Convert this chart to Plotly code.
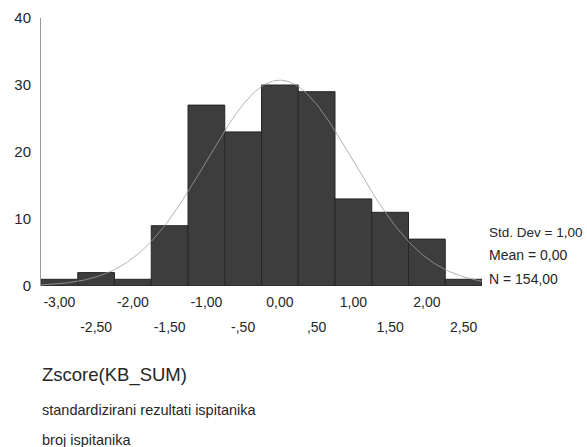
import math
import plotly.graph_objects as go

# ---- data ----
bin_centers = [-3.0, -2.5, -2.0, -1.5, -1.0, -0.5, 0.0, 0.5, 1.0, 1.5, 2.0, 2.5]
counts = [1, 2, 1, 9, 27, 23, 30, 29, 13, 11, 7, 1]
row1_vals = [-3.0, -2.0, -1.0, 0.0, 1.0, 2.0]
row1_text = ["-3,00", "-2,00", "-1,00", "0,00", "1,00", "2,00"]
row2_vals = [-2.5, -1.5, -0.5, 0.5, 1.5, 2.5]
row2_text = ["-2,50", "-1,50", "-,50", ",50", "1,50", "2,50"]
y_ticks = [0, 10, 20, 30, 40]
std_dev = 1.0
mean = 0.0
n_total = 154
bin_width = 0.5
stats_text = ["Std. Dev = 1,00", "Mean = 0,00", "N = 154,00"]
stats_y = [8.0, 4.6, 1.0]
stats_size = [13.5, 14, 14]
title_text = "Zscore(KB_SUM)"
sub1_text = "standardizirani rezultati ispitanika"
sub2_text = "broj ispitanika"

# fitted normal curve from the stated statistics
x_lo = bin_centers[0] - bin_width / 2
x_hi = bin_centers[-1] + bin_width / 2
steps = 240
curve_x = [x_lo + (x_hi - x_lo) * i / steps for i in range(steps + 1)]
curve_y = [n_total * bin_width / (std_dev * math.sqrt(2 * math.pi))
           * math.exp(-0.5 * ((x - mean) / std_dev) ** 2) for x in curve_x]

FONT = "Arial, Liberation Sans, sans-serif"
TXT = "#262626"

fig = go.Figure()
fig.add_trace(go.Bar(
    x=bin_centers, y=counts, width=bin_width,
    marker=dict(color="#3d3d3d", line=dict(color="#262626", width=1)),
    showlegend=False, hoverinfo="skip"))
fig.add_trace(go.Scatter(
    x=curve_x, y=curve_y, mode="lines",
    line=dict(color="#a0a0a0", width=0.8),
    showlegend=False, hoverinfo="skip"))
# invisible trace to carry the second row of tick labels
fig.add_trace(go.Scatter(
    x=row2_vals, y=[0] * len(row2_vals), xaxis="x2", mode="none",
    showlegend=False, hoverinfo="skip"))

fig.update_layout(
    width=587, height=447,
    margin=dict(l=41, r=105, t=18, b=161),
    paper_bgcolor="white", plot_bgcolor="white",
    font=dict(family=FONT, color=TXT),
    bargap=0,
    xaxis=dict(range=[x_lo, x_hi], tickmode="array", tickvals=row1_vals,
               ticktext=row1_text, ticks="outside", ticklen=3,
               tickcolor="rgba(0,0,0,0)", showgrid=False, zeroline=False,
               showline=False, tickfont=dict(size=14, color=TXT),
               automargin=False),
    xaxis2=dict(range=[x_lo, x_hi], overlaying="x", side="bottom", anchor="y",
                tickmode="array", tickvals=row2_vals, ticktext=row2_text,
                ticks="outside", ticklen=28, tickcolor="rgba(0,0,0,0)",
                showgrid=False, zeroline=False, showline=False,
                tickfont=dict(size=14, color=TXT), automargin=False),
    yaxis=dict(range=[0, 40], tickmode="array", tickvals=y_ticks,
               showgrid=False, zeroline=False, showline=True,
               linecolor="#9a9a9a", linewidth=1, ticks="",
               tickfont=dict(size=15, color=TXT), ticklabelstandoff=6,
               automargin=False),
)

for txt, yv, fs in zip(stats_text, stats_y, stats_size):
    fig.add_annotation(text=txt, xref="paper", x=1.012, yref="y", y=yv,
                       xanchor="left", yanchor="middle", showarrow=False,
                       font=dict(size=fs, color=TXT, family=FONT))

fig.add_annotation(text=title_text, xref="paper", x=-0.002, yref="paper", y=-0.332,
                   xanchor="left", yanchor="middle", showarrow=False,
                   font=dict(size=18.5, color=TXT, family=FONT))
fig.add_annotation(text=sub1_text, xref="paper", x=-0.002, yref="paper", y=-0.463,
                   xanchor="left", yanchor="middle", showarrow=False,
                   font=dict(size=14.5, color=TXT, family=FONT))
fig.add_annotation(text=sub2_text, xref="paper", x=-0.002, yref="paper", y=-0.575,
                   xanchor="left", yanchor="middle", showarrow=False,
                   font=dict(size=14.5, color=TXT, family=FONT))

fig.write_html("out.html",
               config={"displayModeBar": False, "staticPlot": True},
               post_script="document.body.style.margin='0';document.body.style.overflow='hidden';")
